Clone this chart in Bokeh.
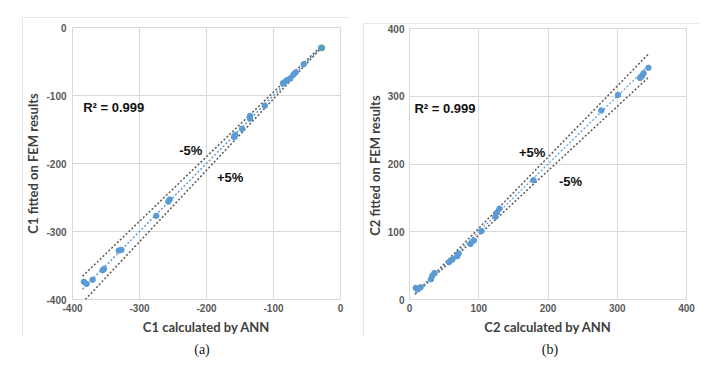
from bokeh.plotting import figure
from bokeh.layouts import row, column
from bokeh.models import Label, FixedTicker, Range1d, Spacer, Div
from bokeh.embed import file_html
from bokeh.resources import INLINE

# ---- data ----
c1_ann = [-29, -55, -67, -70, -75, -79, -82, -86, -113, -135, -135, -147, -157, -159,
          -255, -257, -275, -331, -327, -353, -355, -370, -383, -379]
c1_fem = [-30, -54, -66, -69, -75, -77, -79, -82, -115, -130, -134, -149, -158, -161,
          -253, -256, -277, -328, -327, -355, -357, -371, -374, -377]
c1_green_x = [-28]
c1_green_y = [-30]
c1_line_x = [-385, -28]

c2_ann = [345, 338, 336, 333, 301, 277, 179, 130, 126, 124, 104, 93, 88, 71, 69, 62, 57,
          36, 33, 31, 16, 9, 12]
c2_fem = [342, 334, 330, 327, 302, 279, 176, 134, 128, 122, 101, 87, 82, 68, 64, 59, 55,
          39, 35, 30, 18, 17, 15]
c2_line_x = [8, 346]

c1_ticks = [-400, -300, -200, -100, 0]
c1_tick_labels = ["-400", "-300", "-200", "-100", "0"]
c2_ticks = [0, 100, 200, 300, 400]
c2_tick_labels = ["0", "100", "200", "300", "400"]
r2_text = "R² = 0.999"

BLUE = "#5B9BD5"
GREEN = "#70AD47"
GRAY_LINE = "#595959"
GRID = "#d9d9d9"
TICK_FONT = "Liberation Sans"
TITLE_FONT = "Lato"


def make_panel(width, height, xr, yr, ticks, tick_labels, frame_left, frame_top, frame_right,
               frame_bottom, xlabel, ylabel, ylabel_standoff, ytick_standoff):
    p = figure(width=width, height=height, output_backend="svg", toolbar_location=None,
               x_range=Range1d(*xr), y_range=Range1d(*yr),
               min_border_left=frame_left, min_border_top=frame_top,
               min_border_right=frame_right, min_border_bottom=frame_bottom)
    p.background_fill_color = "white"
    p.border_fill_color = "white"
    p.outline_line_color = GRID
    p.outline_line_width = 1
    p.margin = 0
    p.styles = {"outline": "1px solid #e2e2e2", "outline-offset": "-1px"}
    overrides = {t: s for t, s in zip(ticks, tick_labels)}
    for ax, lab in ((p.xaxis[0], xlabel), (p.yaxis[0], ylabel)):
        ax.ticker = FixedTicker(ticks=ticks)
        ax.major_label_overrides = overrides
        ax.axis_label = lab
        ax.axis_line_color = None
        ax.major_tick_line_color = None
        ax.minor_tick_line_color = None
        ax.major_tick_out = 0
        ax.major_tick_in = 0
        ax.major_label_text_font = TICK_FONT
        ax.major_label_text_font_style = "bold"
        ax.major_label_text_font_size = "10px"
        ax.major_label_text_color = "#595959"
        ax.axis_label_text_font = TITLE_FONT
        ax.axis_label_text_font_style = "bold"
        ax.axis_label_text_font_size = "13px"
        ax.axis_label_text_color = "#404040"
    p.xaxis.major_label_standoff = 4
    p.xaxis.axis_label_standoff = 4
    p.yaxis.major_label_standoff = ytick_standoff
    p.yaxis.axis_label_standoff = ylabel_standoff
    p.xgrid.ticker = FixedTicker(ticks=ticks)
    p.ygrid.ticker = FixedTicker(ticks=ticks)
    p.xgrid.grid_line_color = GRID
    p.ygrid.grid_line_color = GRID
    return p


def add_text(p, x, y, t, align="center"):
    p.add_layout(Label(x=x, y=y, text=t, text_font="Liberation Sans", text_font_style="bold",
                       text_font_size="13px", text_align=align, text_baseline="middle",
                       text_color="#111111"))


def caption(t, width, shift):
    inner = width - shift
    return Div(text=f'<div style="display:block; width:{inner}px; text-align:center; '
                    f'margin-left:{shift}px; margin-top:5px; font-family:\'Liberation Serif\'; '
                    f'font-size:14px; line-height:16px; color:#222;">{t}</div>',
               width=width, height=26, margin=0)


# ---- panel (a) ----
pa = make_panel(328, 320, (-400, 0), (-400, 0), c1_ticks, c1_tick_labels, 46, 10, 10, 38,
                "C1 calculated by ANN", "C1 fitted on FEM results", 2, 6)
pa.line(c1_line_x, [v * 0.95 for v in c1_line_x], line_color=GRAY_LINE, line_dash="2 2", line_width=1.5)
pa.line(c1_line_x, [v * 1.05 for v in c1_line_x], line_color=GRAY_LINE, line_dash="2 2", line_width=1.5)
pa.line(c1_line_x, c1_line_x, line_color=BLUE, line_dash="2 2", line_width=1.5)
pa.scatter(c1_green_x, c1_green_y, size=6, color=GREEN)
pa.scatter(c1_ann, c1_fem, size=5.5, color=BLUE)
add_text(pa, -384, -117.6, r2_text, align="left")
add_text(pa, -223.5, -181, "-5%")
add_text(pa, -164.7, -220.6, "+5%")

# ---- panel (b) ----
pb = make_panel(336, 314, (0, 400), (0, 400), c2_ticks, c2_tick_labels, 46, 5, 13, 38,
                "C2 calculated by ANN", "C2  fitted on FEM results", 2, 5)
pb.line(c2_line_x, [v * 1.05 for v in c2_line_x], line_color=GRAY_LINE, line_dash="2 2", line_width=1.5)
pb.line(c2_line_x, [v * 0.95 for v in c2_line_x], line_color=GRAY_LINE, line_dash="2 2", line_width=1.5)
pb.line(c2_line_x, c2_line_x, line_color=BLUE, line_dash="2 2", line_width=1.2)
pb.scatter(c2_ann, c2_fem, size=5.5, color=BLUE)
add_text(pb, 7.2, 282, r2_text, align="left")
add_text(pb, 177.2, 216.5, "+5%")
add_text(pb, 232.5, 174.2, "-5%")

col_a = column(Spacer(height=17, margin=0), pa, caption("(a)", 328, 32), spacing=0, margin=0)
col_b = column(Spacer(height=23, margin=0), pb, caption("(b)", 336, 38), spacing=0, margin=0)
layout = row(Spacer(width=22, margin=0), col_a, Spacer(width=13, margin=0), col_b,
             spacing=0, margin=0)
open("out.html", "w").write(file_html(layout, INLINE))
